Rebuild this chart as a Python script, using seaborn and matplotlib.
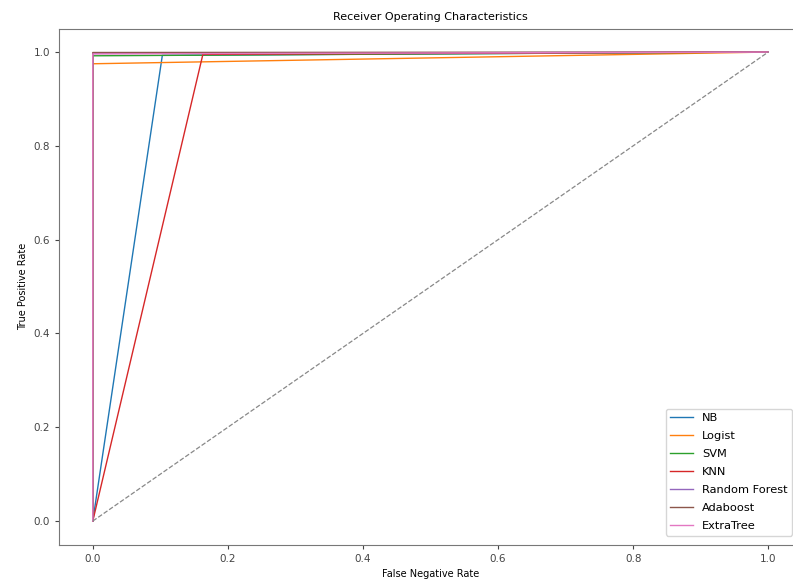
import matplotlib
matplotlib.use("Agg")
import matplotlib.pyplot as plt
import pandas as pd
import seaborn as sns

# ── ROC points ────────────────────────────────────────────────────
model_names = ["NB", "Logist", "SVM", "KNN", "Random Forest", "Adaboost", "ExtraTree"]
fpr_nb = [0.0, 0.103, 1.0]
tpr_nb = [0.0, 0.993, 1.0]
fpr_logist = [0.0, 0.0, 1.0]
tpr_logist = [0.0, 0.975, 1.0]
fpr_svm = [0.0, 0.0, 1.0]
tpr_svm = [0.0, 0.992, 1.0]
fpr_knn = [0.0, 0.163, 1.0]
tpr_knn = [0.0, 0.995, 1.0]
fpr_rf = [0.0, 0.0, 1.0]
tpr_rf = [0.0, 0.997, 1.0]
fpr_ada = [0.0, 0.0, 1.0]
tpr_ada = [0.0, 0.999, 1.0]
fpr_et = [0.0, 0.0, 1.0]
tpr_et = [0.0, 0.996, 1.0]
chance = [0.0, 1.0]

curves = [
    (fpr_nb, tpr_nb),
    (fpr_logist, tpr_logist),
    (fpr_svm, tpr_svm),
    (fpr_knn, tpr_knn),
    (fpr_rf, tpr_rf),
    (fpr_ada, tpr_ada),
    (fpr_et, tpr_et),
]

rows = []
for name, (fpr, tpr) in zip(model_names, curves):
    for i, (x, y) in enumerate(zip(fpr, tpr)):
        rows.append({"model": name, "step": i, "fpr": x, "tpr": y})
df = pd.DataFrame(rows)

fig = plt.figure(figsize=(7.93, 5.81), dpi=100)
# right edge of the axes runs past the figure, as in the cropped original
ax = fig.add_axes([0.0744, 0.0628, 0.937, 0.888])

sns.lineplot(
    data=df,
    x="fpr",
    y="tpr",
    hue="model",
    hue_order=model_names,
    units="model",
    estimator=None,
    sort=False,
    palette=sns.color_palette("tab10", len(model_names)),
    linewidth=1.0,
    ax=ax,
)
ax.plot(chance, chance, linestyle="--", color="#888888", linewidth=0.9)
ax.set_xlim(-0.05, 1.05)

ax.set_title("Receiver Operating Characteristics", fontsize=8)
ax.set_xlabel("False Negative Rate", fontsize=7)
ax.set_ylabel("True Positive Rate", fontsize=7)
ax.tick_params(labelsize=7.5, colors="#444444", length=3)
for spine in ax.spines.values():
    spine.set_color("#777777")

ax.legend(
    loc="lower right",
    bbox_to_anchor=(0.999, 0.078),
    bbox_transform=fig.transFigure,
    borderaxespad=0,
    fontsize=8.2,
    frameon=True,
    handlelength=2.0,
    labelspacing=0.7,
)

fig.savefig("out.png", dpi=100)
